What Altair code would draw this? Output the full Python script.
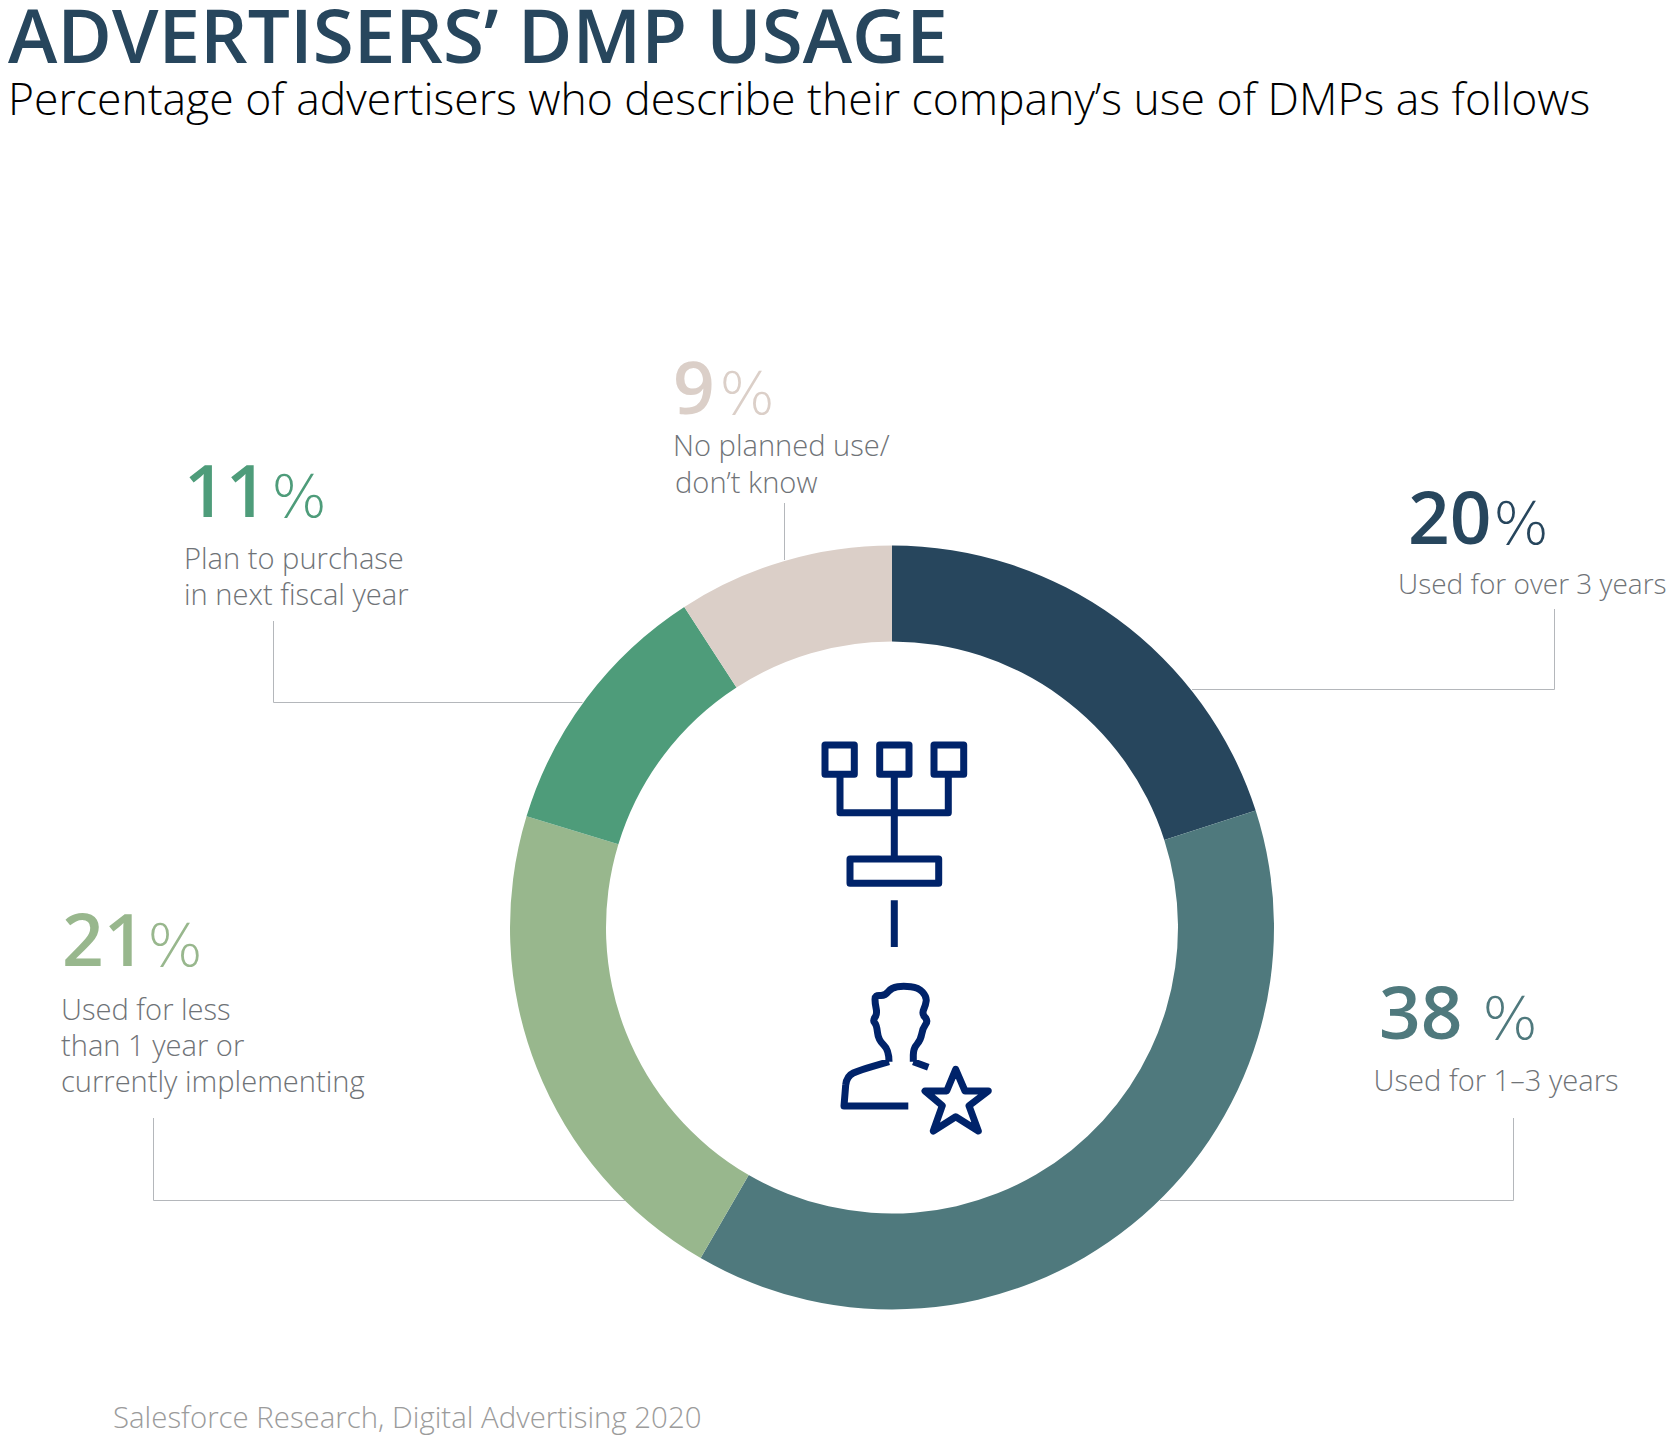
import altair as alt
import pandas as pd

CATEGORIES = ["Used for over 3 years", "Used for 1-3 years", "Used for less than 1 year or currently implementing",
              "Plan to purchase in next fiscal year", "No planned use/don't know"]
VALUES = [20.05, 38.3, 21.35, 11.15, 9.15]
ORDER = [0, 1, 2, 3, 4]
COLORS = ["#27465D", "#4F797D", "#98B78D", "#4E9C7A", "#DBCFC8"]
TITLE = "ADVERTISERS’ DMP USAGE"
SUBTITLE = "Percentage of advertisers who describe their company’s use of DMPs as follows"
FOOTER = "Salesforce Research, Digital Advertising 2020"

W, H = 1660, 1429
OFF = 8
FONT = "Open Sans"
LABEL_GREY = "#6f7377"
NAVY = "#00236A"

base = alt.Chart(pd.DataFrame({"category": CATEGORIES, "value": VALUES, "ord": ORDER}))
donut = base.mark_arc(innerRadius=286, outerRadius=382).encode(
    theta=alt.Theta("value:Q", stack=True),
    order=alt.Order("ord:Q"),
    color=alt.Color("category:N", scale=alt.Scale(domain=CATEGORIES, range=COLORS), legend=None),
    x=alt.value(892 - OFF),
    y=alt.value(927.5 - OFF),
)

dummy = alt.Chart(pd.DataFrame({"a": [0]}))


def text(s, x, y, size, color, weight=400, font=FONT):
    return dummy.mark_text(text=s, align="left", baseline="alphabetic", fontSize=size, font=font,
                           fontWeight=weight, color=color).encode(x=alt.value(x - OFF), y=alt.value(y - OFF))


def rule(x1, y1, x2, y2):
    return dummy.mark_rule(color="#b4b7bb", strokeWidth=1).encode(
        x=alt.value(x1 - OFF), y=alt.value(y1 - OFF), x2=alt.value(x2 - OFF), y2=alt.value(y2 - OFF))


layers = [donut]

segs = [
    (1192, 689.5, 1554.5, 689.5), (1554.5, 689.5, 1554.5, 609),
    (1160, 1200.5, 1513.5, 1200.5), (1513.5, 1200.5, 1513.5, 1118),
    (153.5, 1200.5, 625, 1200.5), (153.5, 1200.5, 153.5, 1118),
    (273.5, 702.5, 582.5, 702.5), (273.5, 702.5, 273.5, 621),
    (784.5, 503, 784.5, 560),
]
layers += [rule(*s) for s in segs]

layers += [
    text(TITLE, 8, 63, 74.6, "#27465D", 600),
    text(SUBTITLE, 8, 115, 44.5, "#000000", 300),
    text(FOOTER, 113, 1428, 29.4, "#9b9b9b", 300),
]

callouts = [
    ("9", 673, 413.7, 719, COLORS[4], 29.1, [("No planned use/", 673, 456), ("don’t know", 675, 492.5)]),
    ("11", 184, 517, 271, COLORS[3], 29.1, [("Plan to purchase", 184, 568.5), ("in next fiscal year", 184, 605)]),
    ("20", 1408, 544, 1493, COLORS[0], 28, [("Used for over 3 years", 1398, 594)]),
    ("38", 1379, 1039, 1482, COLORS[1], 29.1, [("Used for 1–3 years", 1373.6, 1091)]),
    ("21", 62, 966, 147, COLORS[2], 29.1, [("Used for less", 61, 1019.5), ("than 1 year or", 61, 1056),
                                           ("currently implementing", 61, 1092)]),
]
for num, nx, ny, px, col, lsize, lines in callouts:
    layers.append(text(num, nx, ny, 73, col, 600))
    layers.append(text("%", px, ny, 59, col, 200, "DejaVu Sans"))
    for s, lx, ly in lines:
        layers.append(text(s, lx, ly, lsize, LABEL_GREY, 300))


def Z(x, y):
    return f"{780 + x / 3:.1f} {710 + y / 3:.1f}"


def poly(points, close=False):
    s = "M" + " L".join(Z(*p) for p in points)
    return s + (" Z" if close else "")


def smooth(points):
    s = "M" + Z(*points[0])
    for a, b in zip(points[1:-1], points[2:]):
        s += " Q" + Z(*a) + " " + Z((a[0] + b[0]) / 2, (a[1] + b[1]) / 2)
    return s + " L" + Z(*points[-1])


tree = [
    poly([(135, 105), (223, 105), (223, 193), (135, 193)], True),
    poly([(299, 105), (387, 105), (387, 193), (299, 193)], True),
    poly([(462, 105), (551, 105), (551, 193), (462, 193)], True),
    poly([(180, 193), (180, 308), (505, 308), (505, 193)]),
    poly([(343, 193), (343, 447)]),
    poly([(210, 447), (476, 447), (476, 520), (210, 520)], True),
    poly([(343, 571), (343, 711)]),
]
person = [
    poly([(385, 1188), (192, 1188), (197, 1125)]),
    smooth([(197, 1125), (200, 1098), (240, 1080), (327, 1055)]),
    smooth([(327, 1055), (327, 1020), (295, 990), (290, 945), (278, 932), (292, 912), (285, 880), (285, 855),
            (315, 858), (335, 832), (370, 828), (415, 832), (440, 860), (437, 885), (425, 912), (445, 932),
            (428, 955), (422, 990), (400, 1015), (400, 1055)]),
    poly([(400, 1055), (445, 1072)]),
]
star = poly([(527, 1078), (555, 1143), (625, 1143), (567, 1187), (595, 1263), (527, 1220), (460, 1263),
             (487, 1187), (435, 1143), (500, 1143)], True)
# Custom symbol: size 4 makes path units equal to pixels, relative to the mark position (0, 0).
icon_path = " ".join(tree + person + [star])
icon = dummy.mark_point(shape=icon_path, size=4, filled=False, stroke=NAVY, strokeWidth=7, opacity=1,
                        strokeJoin="round").encode(x=alt.value(-OFF), y=alt.value(-OFF))
layers.append(icon)

chart = alt.layer(*layers).properties(
    width=W, height=H, padding=0, autosize=alt.AutoSizeParams(type="none"),
).configure_view(stroke=None).resolve_scale(color="independent")

chart.save("out.html", embed_options={"renderer": "svg", "actions": False})
